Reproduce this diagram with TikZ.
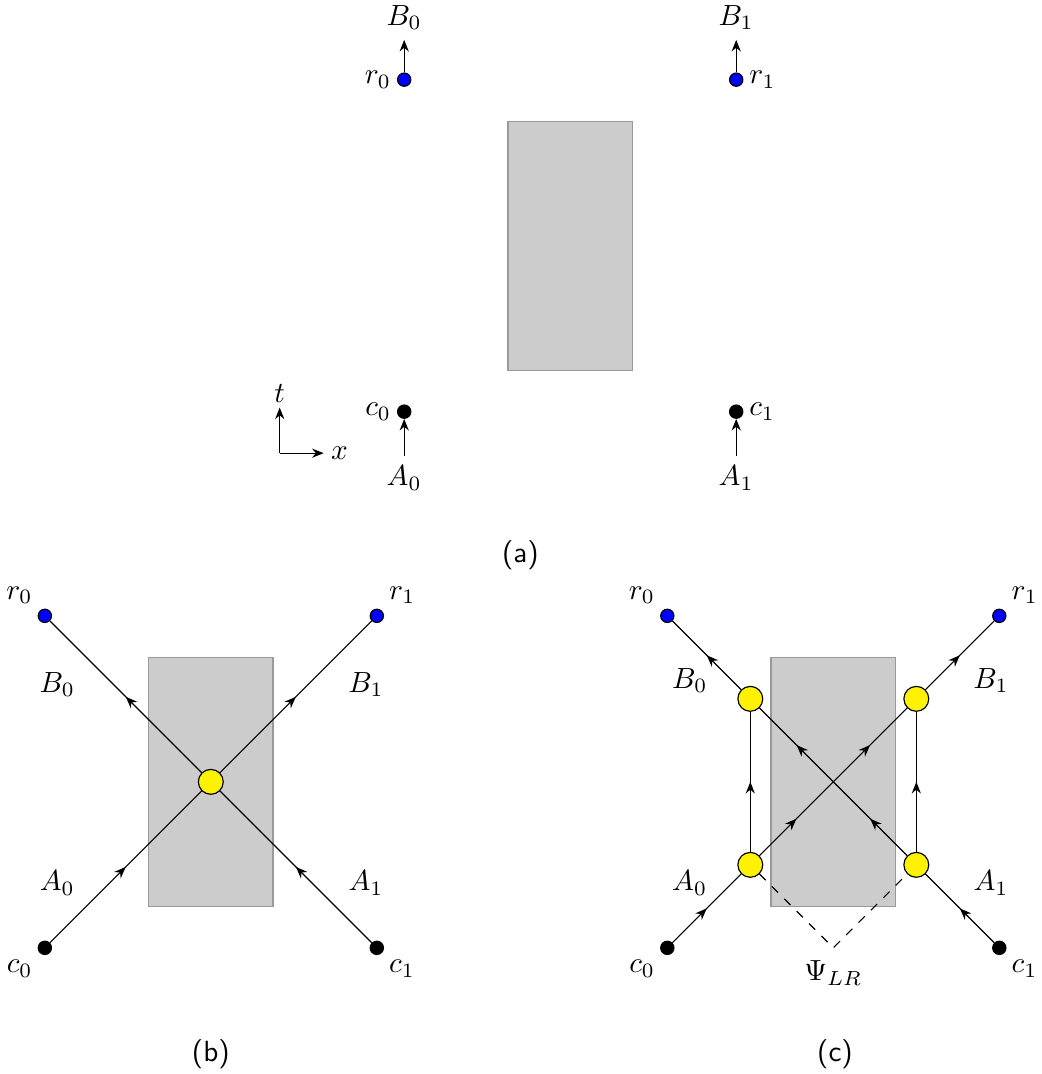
\documentclass[tikz,border=0pt]{standalone}
\usepackage{fontspec}
\usetikzlibrary{arrows.meta,positioning,decorations.markings}

\begin{document}
\begin{tikzpicture}[
  dot/.style={circle, draw, inner sep=0pt, minimum size=1.6mm},
  src/.style={dot, fill=black},
  rcv/.style={dot, fill=blue},
  vtx/.style={circle, draw, fill=yellow, inner sep=0pt, minimum size=3mm},
  region/.style={draw=black!40, fill=black!20},
  arr/.style={-{Stealth[length=1.4mm,width=1.1mm]}},
  mid/.style={postaction={decorate},
    decoration={markings, mark=at position 0.5 with {\arrow{Stealth[length=1.4mm,width=1.1mm]}}}},
  midtwo/.style={postaction={decorate},
    decoration={markings,
      mark=at position 0.25 with {\arrow{Stealth[length=1.4mm,width=1.1mm]}},
      mark=at position 0.75 with {\arrow{Stealth[length=1.4mm,width=1.1mm]}}}},
  subcap/.style={font=\sffamily},
  label distance=-1.5pt
]
\useasboundingbox (-0.54,-1.52) rectangle (12.01,11.42);

% (a) the setup
\begin{scope}[shift={(4.33,6.46)}]
\filldraw[region] (1.25,0.5) rectangle (2.75,3.5);
\node[src, label=left:$c_0$] (ca0) at (0,0) {};
\node[src, label=right:$c_1$] (ca1) at (4,0) {};
\node[rcv, label=left:$r_0$] (ra0) at (0,4) {};
\node[rcv, label=right:$r_1$] (ra1) at (4,4) {};
\node (Aa0) at (0,-0.8) {$A_0$};
\node (Aa1) at (4,-0.8) {$A_1$};
\node (Ba0) at (0,4.75) {$B_0$};
\node (Ba1) at (4,4.75) {$B_1$};
\draw[arr] (Aa0) -- (ca0);
\draw[arr] (Aa1) -- (ca1);
\draw[arr] (ra0) -- (Ba0);
\draw[arr] (ra1) -- (Ba1);
% axes
\coordinate (o) at (-1.5,-0.5);
\node (t) at (-1.5,0.22) {$t$};
\node (x) at (-0.78,-0.5) {$x$};
\draw[arr] (o) -- (-1.5,0.05);
\draw[arr] (o) -- (-0.97,-0.5);
\end{scope}
\node[subcap] (capa) at (5.73,4.73) {(a)};

% (b) one vertex
\filldraw[region] (1.25,0.5) rectangle (2.75,3.5);
\node[src, label=below left:$c_0$] (cb0) at (0,0) {};
\node[src, label=below right:$c_1$] (cb1) at (4,0) {};
\node[rcv, label=above left:$r_0$] (rb0) at (0,4) {};
\node[rcv, label=above right:$r_1$] (rb1) at (4,4) {};
\node[vtx] (vb) at (2,2) {};
\draw[mid] (cb0) -- (vb);
\draw[mid] (cb1) -- (vb);
\draw[mid] (vb) -- (rb0);
\draw[mid] (vb) -- (rb1);
\node at (0.15,3.17) {$B_0$};
\node at (3.87,3.17) {$B_1$};
\node at (0.15,0.78) {$A_0$};
\node at (3.87,0.78) {$A_1$};
\node[subcap] (capb) at (2,-1.28) {(b)};

% (c) four vertices
\filldraw[region] (8.75,0.5) rectangle (10.25,3.5);
\node[src, label=below left:$c_0$] (cc0) at (7.5,0) {};
\node[src, label=below right:$c_1$] (cc1) at (11.5,0) {};
\node[rcv, label=above left:$r_0$] (rc0) at (7.5,4) {};
\node[rcv, label=above right:$r_1$] (rc1) at (11.5,4) {};
\node[vtx] (va0) at (8.5,1) {};
\node[vtx] (va1) at (10.5,1) {};
\node[vtx] (vb0) at (8.5,3) {};
\node[vtx] (vb1) at (10.5,3) {};
\coordinate (psi) at (9.5,0);
\draw[mid] (cc0) -- (va0);
\draw[mid] (cc1) -- (va1);
\draw[mid] (va0) -- (vb0);
\draw[mid] (va1) -- (vb1);
\draw[midtwo] (va0) -- (vb1);
\draw[midtwo] (va1) -- (vb0);
\draw[mid] (vb0) -- (rc0);
\draw[mid] (vb1) -- (rc1);
\draw[dashed] (va0) -- (psi) -- (va1);
\node[below=1pt] at (psi) {$\Psi_{LR}$};
\node at (7.77,3.22) {$B_0$};
\node at (11.4,3.22) {$B_1$};
\node at (7.77,0.78) {$A_0$};
\node at (11.4,0.78) {$A_1$};
\node[subcap] (capc) at (9.52,-1.28) {(c)};
\end{tikzpicture}
\end{document}
